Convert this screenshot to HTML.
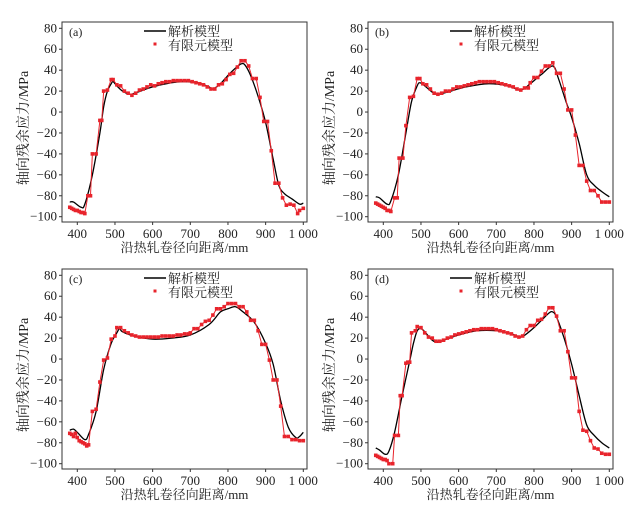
<!DOCTYPE html>
<html><head><meta charset="utf-8"><style>
body{margin:0;background:#fff}
svg text{font-family:"Liberation Serif","Noto Serif CJK SC",serif;fill:#222}
</style></head><body>
<svg id="s" width="636" height="512" xmlns="http://www.w3.org/2000/svg"></svg>
<script>
const P=[
{ox:62,oy:22,lab:"(a)",
blk:[[380,-86],[390,-86],[410,-91],[420,-88],[440,-60],[460,-20],[470,5],[480,20],[490,27],[495,29],[505,25],[520,20],[540,17],[560,19],[600,24],[650,28],[680,29],[720,28],[750,24],[760,22],[780,27],[800,35],[820,42],[835,46],[845,45],[860,35],[880,15],[900,-10],[920,-45],[935,-70],[950,-78],[970,-83],[990,-88],[1000,-87]],
red:[[380,-91],[385,-92],[390,-93],[395,-94],[400,-94],[405,-95],[410,-96],[415,-96],[420,-97],[428,-80],[435,-80],[440,-40],[450,-40],[460,-8],[465,-8],[470,20],[480,21],[490,31],[495,31],[505,26],[515,25],[525,20],[535,18],[545,16],[555,18],[565,21],[575,22],[585,24],[595,26],[605,25],[615,27],[625,28],[635,29],[645,29],[655,30],[665,30],[675,30],[685,30],[695,30],[705,29],[715,28],[725,27],[735,26],[745,24],[755,22],[765,22],[775,26],[785,27],[795,31],[805,36],[815,37],[825,43],[835,49],[845,49],[855,44],[865,32],[875,32],[885,14],[895,-9],[905,-9],[915,-37],[925,-68],[935,-68],[945,-82],[955,-89],[965,-88],[975,-89],[985,-97],[990,-94],[1000,-92]]},
{ox:368,oy:22,lab:"(b)",
blk:[[380,-81],[390,-82],[410,-88],[420,-85],[440,-60],[460,-20],[475,10],[490,25],[497,28],[510,25],[530,19],[545,17],[570,19],[620,24],[680,27],[730,25],[765,21],[790,27],[820,36],[850,44],[865,32],[885,10],[900,-5],[920,-30],[940,-60],[960,-70],[980,-76],[1000,-81]],
red:[[380,-87],[385,-88],[390,-89],[395,-90],[400,-91],[405,-92],[410,-94],[415,-94],[420,-95],[430,-82],[437,-82],[442,-44],[452,-44],[460,-13],[470,14],[480,15],[490,32],[497,32],[505,27],[515,26],[525,22],[535,18],[545,17],[555,18],[565,20],[575,20],[585,22],[595,24],[605,24],[615,25],[625,26],[635,27],[645,28],[655,29],[665,29],[675,29],[685,29],[695,29],[705,28],[715,27],[725,26],[735,25],[745,24],[755,22],[765,21],[775,23],[785,23],[790,28],[800,33],[810,33],[820,39],[830,44],[840,44],[850,47],[860,37],[870,37],[880,22],[890,2],[900,2],[910,-22],[920,-51],[930,-51],[940,-66],[950,-75],[960,-75],[970,-80],[980,-86],[990,-86],[1000,-86]]},
{ox:62,oy:269,lab:"(c)",
blk:[[380,-68],[390,-67],[400,-70],[420,-77],[430,-72],[450,-50],[470,-10],[490,15],[505,25],[512,29],[520,26],[550,22],[600,19],[650,20],[700,23],[750,33],[780,45],[800,48],[820,50],[840,45],[870,35],[900,15],[920,-5],[940,-40],[960,-65],[980,-75],[990,-74],[1000,-70]],
red:[[380,-71],[385,-72],[390,-74],[395,-71],[400,-75],[405,-78],[410,-79],[415,-80],[420,-81],[425,-83],[430,-82],[440,-50],[450,-48],[460,-22],[470,-1],[480,1],[490,19],[500,22],[505,30],[515,30],[525,27],[535,25],[545,23],[555,22],[565,21],[575,21],[585,21],[595,21],[605,21],[615,21],[625,22],[635,22],[645,22],[655,22],[665,23],[675,23],[685,24],[695,24],[700,25],[710,29],[720,29],[730,33],[740,36],[750,37],[760,42],[770,48],[780,48],[790,50],[800,53],[810,53],[820,53],[830,50],[840,50],[850,45],[860,37],[870,37],[880,27],[890,14],[900,14],[910,-1],[920,-20],[930,-20],[940,-45],[950,-74],[960,-74],[970,-77],[980,-77],[990,-78],[1000,-78]]},
{ox:368,oy:269,lab:"(d)",
blk:[[380,-85],[390,-87],[405,-91],[415,-88],[430,-70],[450,-35],[470,-2],[480,15],[490,27],[500,29],[510,26],[530,18],[545,16],[560,18],[600,23],[650,27],[700,27],[740,24],[765,21],[780,24],[800,30],[820,37],[840,44],[850,45],[860,40],[880,20],[900,-5],[920,-35],[940,-63],[960,-73],[980,-80],[1000,-85]],
red:[[380,-92],[385,-93],[390,-94],[395,-95],[400,-96],[405,-96],[410,-97],[415,-100],[425,-100],[430,-73],[440,-73],[445,-35],[450,-35],[460,-4],[465,-3],[470,-3],[475,25],[485,27],[490,31],[500,30],[510,25],[520,21],[530,20],[540,17],[550,17],[560,18],[570,20],[580,21],[590,23],[600,24],[610,25],[620,26],[630,27],[640,28],[650,28],[660,29],[670,29],[680,29],[690,29],[700,28],[710,27],[720,26],[730,25],[740,24],[750,22],[760,21],[770,22],[780,28],[790,32],[800,32],[810,37],[820,38],[830,43],[840,49],[850,49],[860,41],[870,27],[880,27],[890,7],[900,-18],[910,-18],[920,-50],[930,-68],[940,-69],[950,-78],[960,-85],[970,-86],[980,-90],[990,-91],[1000,-91]]}
];
let h="";
const W=245,H=200;
for(const p of P){
 const X=v=>p.ox+15.3+(v-400)*226/600, Y=v=>p.oy+6.3+(80-v)*188.4/180;
 h+=`<rect x="${p.ox}" y="${p.oy}" width="${W}" height="${H}" fill="none" stroke="#333" stroke-width="1"/>`;
 for(let v=-100;v<=80;v+=20){const y=Y(v);
  h+=`<line x1="${p.ox-3}" x2="${p.ox}" y1="${y}" y2="${y}" stroke="#333"/>`;
  h+=`<text x="${p.ox-5}" y="${y+4}" font-size="13" text-anchor="end">${v<0?"−"+(-v):v}</text>`;}
 for(let v=400;v<=1000;v+=100){const x=X(v);
  h+=`<line x1="${x}" x2="${x}" y1="${p.oy+H}" y2="${p.oy+H+3}" stroke="#333"/>`;
  h+=`<text x="${x}" y="${p.oy+H+16}" font-size="13" text-anchor="middle">${v==1000?"1 000":v}</text>`;}
 h+=`<text x="${p.ox+W/2}" y="${p.oy+H+30}" font-size="13" text-anchor="middle">沿热轧卷径向距离/mm</text>`;
 h+=`<text transform="translate(${p.ox-34},${p.oy+106}) rotate(-90)" font-size="14" text-anchor="middle">轴向残余应力/MPa</text>`;
 h+=`<text x="${p.ox+7}" y="${p.oy+14}" font-size="12">${p.lab}</text>`;
 h+=`<line x1="${p.ox+82}" x2="${p.ox+104}" y1="${p.oy+9}" y2="${p.oy+9}" stroke="#000" stroke-width="1.5"/>`;
 h+=`<text x="${p.ox+106}" y="${p.oy+14}" font-size="13">解析模型</text>`;
 h+=`<rect x="${p.ox+91.5}" y="${p.oy+20.5}" width="3" height="3" fill="#e8242c"/>`;
 h+=`<text x="${p.ox+106}" y="${p.oy+28}" font-size="13">有限元模型</text>`;
 const b=p.blk.map(q=>[X(q[0]),Y(q[1])]);
 let d=`M${b[0][0]},${b[0][1]}`;
 for(let i=0;i<b.length-1;i++){const p0=b[Math.max(i-1,0)],p1=b[i],p2=b[i+1],p3=b[Math.min(i+2,b.length-1)];
  d+=` C${p1[0]+(p2[0]-p0[0])/6},${p1[1]+(p2[1]-p0[1])/6} ${p2[0]-(p3[0]-p1[0])/6},${p2[1]-(p3[1]-p1[1])/6} ${p2[0]},${p2[1]}`;}
 h+=`<path d="${d}" fill="none" stroke="#000" stroke-width="1.3"/>`;
 const r=p.red.map(q=>[X(q[0]),Y(q[1])]);
 h+=`<polyline points="${r.map(q=>q.join(",")).join(" ")}" fill="none" stroke="#e8242c" stroke-width="1"/>`;
 for(const q of r)h+=`<rect x="${q[0]-1.8}" y="${q[1]-1.8}" width="3.6" height="3.6" fill="#e8242c"/>`;
}
document.getElementById("s").innerHTML=h;
</script>
</body></html>
